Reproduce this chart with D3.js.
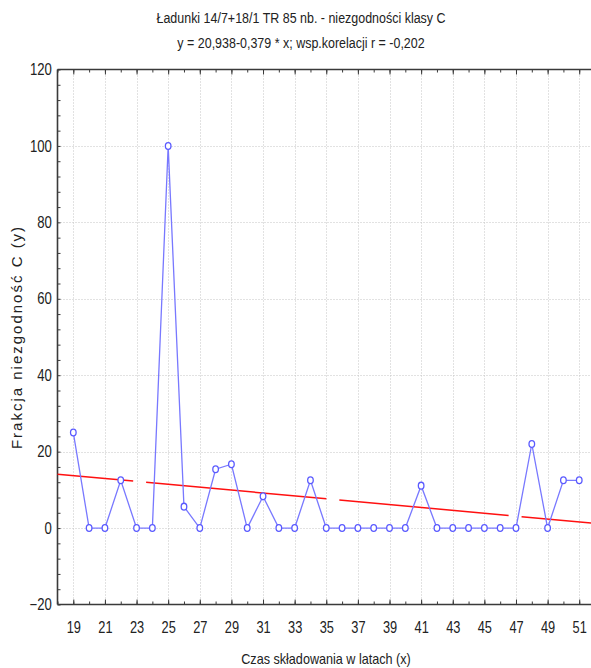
<!DOCTYPE html>
<html>
<head>
<meta charset="utf-8">
<script src="https://cdn.jsdelivr.net/npm/d3@7"></script>
<style>
  html, body { margin: 0; padding: 0; background: #fff; }
  svg { display: block; }
  text { font-family: "Liberation Sans", Arial, sans-serif; }
</style>
</head>
<body>
<svg id="chart" width="591" height="668"></svg>
<script>
// Storage time (years) and class-C nonconformity fraction
const years = [19, 20, 21, 22, 23, 24, 25, 26, 27, 28, 29, 30, 31, 32, 33, 34, 35,
               36, 37, 38, 39, 40, 41, 42, 43, 44, 45, 46, 47, 48, 49, 50, 51];
const fraction = [25, 0, 0, 12.5, 0, 0, 100, 5.6, 0, 15.4, 16.7, 0, 8.3, 0, 0, 12.5, 0,
                  0, 0, 0, 0, 0, 11.1, 0, 0, 0, 0, 0, 0, 22, 0, 12.5, 12.5];
// Linear fit y = a + b*x
const fitA = 20.938;
const fitB = -0.379;
const xTickValues = [19, 21, 23, 25, 27, 29, 31, 33, 35, 37, 39, 41, 43, 45, 47, 49, 51];
const yTickValues = [-20, 0, 20, 40, 60, 80, 100, 120];
const titleLines = ["Ładunki 14/7+18/1 TR 85 nb. - niezgodności klasy C",
                    "y = 20,938-0,379 * x; wsp.korelacji r = -0,202"];
const xTitle = "Czas składowania w latach (x)";
const yTitle = "Frakcja niezgodność C (y)";

const svg = d3.select("#chart");
const mLeft = 57.5, mTop = 69.5, mBottom = 604.5;

const x = d3.scaleLinear().domain([18, 53]).range([mLeft, mLeft + 35 * 15.81]);
const y = d3.scaleLinear().domain([-20, 120]).range([mBottom, mTop]);
const xMax = x.range()[1];

// grid
const grid = svg.append("g").attr("stroke", "#c4c4c4").attr("stroke-width", 1)
  .attr("stroke-dasharray", "1,2");
xTickValues.forEach(v => {
  grid.append("line").attr("x1", Math.round(x(v)) + 0.5).attr("x2", Math.round(x(v)) + 0.5)
    .attr("y1", mTop).attr("y2", mBottom);
});
yTickValues.slice(1, -1).forEach(v => {
  grid.append("line").attr("x1", mLeft).attr("x2", xMax)
    .attr("y1", Math.round(y(v)) + 0.5).attr("y2", Math.round(y(v)) + 0.5);
});

// axes (ticks pointing inward)
const axisColor = "#3a3a3a";
const xMinor = d3.range(18, 53, 1);
const yMinor = d3.range(-20, 121, 4);

const axB = d3.axisBottom(x).tickValues(xMinor).tickSize(-3).tickFormat("");
svg.append("g").attr("transform", `translate(0,${mBottom})`).call(axB)
  .call(g => g.selectAll("line").attr("stroke", axisColor))
  .call(g => g.select(".domain").remove());
const axBMaj = d3.axisBottom(x).tickValues(xTickValues).tickSize(-5).tickPadding(17)
  .tickFormat(d3.format("d"));
svg.append("g").attr("transform", `translate(0,${mBottom})`).call(axBMaj)
  .call(g => g.selectAll("line").attr("stroke", axisColor))
  .call(g => g.select(".domain").remove())
  .call(g => g.selectAll("text").attr("font-size", 16).attr("fill", "#222")
    .attr("font-family", "Liberation Sans, Arial, sans-serif")
    .attr("transform", "scale(0.8,1)"));

const axT = d3.axisTop(x).tickValues(xMinor).tickSize(-3).tickFormat("");
svg.append("g").attr("transform", `translate(0,${mTop})`).call(axT)
  .call(g => g.selectAll("line").attr("stroke", axisColor))
  .call(g => g.select(".domain").remove());
const axTMaj = d3.axisTop(x).tickValues(xTickValues).tickSize(-5).tickFormat("");
svg.append("g").attr("transform", `translate(0,${mTop})`).call(axTMaj)
  .call(g => g.selectAll("line").attr("stroke", axisColor))
  .call(g => g.select(".domain").remove());

const axL = d3.axisLeft(y).tickValues(yMinor).tickSize(-3).tickFormat("");
svg.append("g").attr("transform", `translate(${mLeft},0)`).call(axL)
  .call(g => g.selectAll("line").attr("stroke", axisColor))
  .call(g => g.select(".domain").remove());
const axLMaj = d3.axisLeft(y).tickValues(yTickValues).tickSize(0).tickPadding(7)
  .tickFormat(d3.format("d"));
svg.append("g").attr("transform", `translate(${mLeft},0)`).call(axLMaj)
  .call(g => g.select(".domain").remove())
  .call(g => g.selectAll("text").attr("font-size", 16).attr("fill", "#222")
    .attr("font-family", "Liberation Sans, Arial, sans-serif")
    .attr("transform", "scale(0.82,1)"));

// frame lines
svg.append("line").attr("x1", mLeft).attr("x2", mLeft).attr("y1", mTop).attr("y2", mBottom)
  .attr("stroke", axisColor).attr("stroke-width", 1.6);
svg.append("line").attr("x1", mLeft).attr("x2", xMax).attr("y1", mBottom).attr("y2", mBottom)
  .attr("stroke", axisColor).attr("stroke-width", 1.6);
svg.append("line").attr("x1", mLeft).attr("x2", xMax).attr("y1", mTop).attr("y2", mTop)
  .attr("stroke", axisColor).attr("stroke-width", 1.6);

// regression line
const fitX = [18, 53];
svg.append("line")
  .attr("x1", x(fitX[0])).attr("y1", y(fitA + fitB * fitX[0]))
  .attr("x2", x(fitX[1])).attr("y2", y(fitA + fitB * fitX[1]))
  .attr("stroke", "#ff1010").attr("stroke-width", 1.5)
  .attr("stroke-dasharray", "76,13,181,13,170,13,200");

// data series
const pts = years.map((v, i) => [v, fraction[i]]);
svg.append("path").datum(pts)
  .attr("d", d3.line().x(d => x(d[0])).y(d => y(d[1])))
  .attr("fill", "none").attr("stroke", "#7878ff").attr("stroke-width", 1.3);
svg.append("g").selectAll("ellipse").data(pts).join("ellipse")
  .attr("cx", d => x(d[0])).attr("cy", d => y(d[1]))
  .attr("rx", 2.8).attr("ry", 3.4)
  .attr("fill", "#fff").attr("stroke", "#5a5aff").attr("stroke-width", 1.3);

// titles (condensed by horizontal scaling)
const titleX = 301;
svg.append("g").attr("transform", `translate(${titleX},0) scale(0.86,1)`)
  .selectAll("text").data(titleLines).join("text")
  .attr("x", 0).attr("y", (d, i) => 23 + i * 25)
  .attr("text-anchor", "middle").attr("font-size", 14.5).attr("fill", "#222")
  .text(d => d);

svg.append("g").attr("transform", "translate(326,0) scale(0.87,1)")
  .append("text").attr("x", 0).attr("y", 664)
  .attr("text-anchor", "middle").attr("font-size", 14.5).attr("fill", "#222").text(xTitle);

svg.append("text")
  .attr("transform", "translate(22,337) rotate(-90)")
  .attr("text-anchor", "middle").attr("font-size", 15).attr("letter-spacing", 2)
  .attr("fill", "#222")
  .text(yTitle);
</script>
</body>
</html>
